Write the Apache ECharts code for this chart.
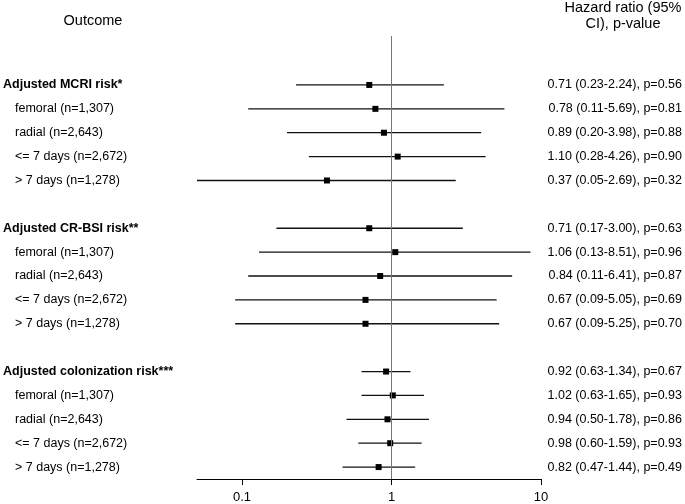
<!DOCTYPE html>
<html>
<head>
<meta charset="utf-8">
<script src="https://cdn.jsdelivr.net/npm/echarts@6/dist/echarts.min.js"></script>
<style>html,body{margin:0;padding:0;background:#fff}#chart{width:685px;height:504px}</style>
</head>
<body>
<div id="chart"></div>
<script>
const rowLabels = ['Adjusted MCRI risk*','femoral (n=1,307)','radial (n=2,643)','<= 7 days (n=2,672)','> 7 days (n=1,278)','',
  'Adjusted CR-BSI risk**','femoral (n=1,307)','radial (n=2,643)','<= 7 days (n=2,672)','> 7 days (n=1,278)','',
  'Adjusted colonization risk***','femoral (n=1,307)','radial (n=2,643)','<= 7 days (n=2,672)','> 7 days (n=1,278)'];
const isHeader = [1,0,0,0,0,0,1,0,0,0,0,0,1,0,0,0,0];
const estimate = [0.71,0.78,0.89,1.10,0.37,null,0.71,1.06,0.84,0.67,0.67,null,0.92,1.02,0.94,0.98,0.82];
const lower    = [0.23,0.11,0.20,0.28,0.05,null,0.17,0.13,0.11,0.09,0.09,null,0.63,0.63,0.50,0.60,0.47];
const upper    = [2.24,5.69,3.98,4.26,2.69,null,3.00,8.51,6.41,5.05,5.25,null,1.34,1.65,1.78,1.59,1.44];
const resultText = ['0.71 (0.23-2.24), p=0.56','0.78 (0.11-5.69), p=0.81','0.89 (0.20-3.98), p=0.88','1.10 (0.28-4.26), p=0.90','0.37 (0.05-2.69), p=0.32','',
  '0.71 (0.17-3.00), p=0.63','1.06 (0.13-8.51), p=0.96','0.84 (0.11-6.41), p=0.87','0.67 (0.09-5.05), p=0.69','0.67 (0.09-5.25), p=0.70','',
  '0.92 (0.63-1.34), p=0.67','1.02 (0.63-1.65), p=0.93','0.94 (0.50-1.78), p=0.86','0.98 (0.60-1.59), p=0.93','0.82 (0.47-1.44), p=0.49'];
const tickValues = [0.1, 1, 10];
const tickLabels = ['0.1', '1', '10'];
const nullValue = 1;

const rows = rowLabels.map((_, i) => i);
const data = [];
rows.forEach(i => { if (estimate[i] != null) data.push([estimate[i], lower[i], upper[i], i]); });

const chart = echarts.init(document.getElementById('chart'), null, {renderer: 'canvas'});
const FONT = 'Liberation Sans, Arial, sans-serif';
const yCommon = {
  type: 'value', inverse: true, min: -2.05, max: 16.5,
  axisLine: {show: false}, axisTick: {show: false}, splitLine: {show: false}
};
chart.setOption({
  animation: false,
  backgroundColor: '#fff',
  textStyle: {fontFamily: FONT},
  grid: {left: 196, right: 142, top: 36, bottom: 25, containLabel: false},
  graphic: [
    {type: 'text', x: 93, y: 21, style: {text: 'Outcome', font: '14.5px ' + FONT, fill: '#000', textAlign: 'center', textVerticalAlign: 'middle'}},
    {type: 'text', x: 623, y: 16, style: {text: 'Hazard ratio (95%\nCI), p-value', font: '14.5px ' + FONT, fill: '#000', textAlign: 'center', textVerticalAlign: 'middle', lineHeight: 16.5}}
  ],
  xAxis: {
    type: 'log', logBase: 10, min: 0.05, max: 10, position: 'bottom',
    axisLine: {show: true, onZero: false, lineStyle: {color: '#000', width: 1}},
    axisTick: {show: true, customValues: tickValues, length: 6, lineStyle: {color: '#000'}},
    axisLabel: {show: true, customValues: tickValues, color: '#000', fontSize: 13, margin: 12, fontFamily: FONT,
      formatter: v => { const k = tickValues.findIndex(t => Math.abs(t - v) < 1e-9); return k >= 0 ? tickLabels[k] : ''; }},
    splitLine: {show: false}, minorTick: {show: false}
  },
  yAxis: [
    Object.assign({}, yCommon, {
      position: 'left',
      axisLabel: {show: true, customValues: rows, align: 'left', margin: 194, color: '#000',
        formatter: v => { const i = Math.round(v); if (!rowLabels[i]) return ''; return isHeader[i] ? '{h|' + rowLabels[i] + '}' : '{s|' + rowLabels[i] + '}'; },
        rich: {
          h: {fontFamily: FONT, fontSize: 12.5, fontWeight: 'bold', color: '#000'},
          s: {fontFamily: FONT, fontSize: 12.5, color: '#000', padding: [0, 0, 0, 12]}
        }}
    }),
    Object.assign({}, yCommon, {
      position: 'right',
      axisLabel: {show: true, customValues: rows, align: 'right', margin: 141, color: '#000', fontFamily: FONT, fontSize: 12.5,
        formatter: v => resultText[Math.round(v)] || ''}
    })
  ],
  series: [{
    type: 'custom',
    xAxisIndex: 0, yAxisIndex: 0,
    data: data,
    encode: {x: [0, 1, 2], y: 3},
    clip: false,
    renderItem: function (params, api) {
      const row = api.value(3);
      const p1 = api.coord([api.value(1), row]);
      const p2 = api.coord([api.value(2), row]);
      const pe = api.coord([api.value(0), row]);
      const s = 6;
      return {type: 'group', children: [
        {type: 'line', shape: {x1: p1[0], y1: p1[1], x2: p2[0], y2: p2[1]}, style: {stroke: '#111', lineWidth: 1.3}},
        {type: 'rect', shape: {x: pe[0] - s / 2, y: pe[1] - s / 2, width: s, height: s}, style: {fill: '#000'}}
      ]};
    },
    markLine: {
      silent: true, symbol: ['none', 'none'], label: {show: false},
      lineStyle: {color: '#777', width: 1, type: 'solid'},
      data: [{xAxis: nullValue}]
    },
    z: 3
  }]
});
</script>
</body>
</html>
